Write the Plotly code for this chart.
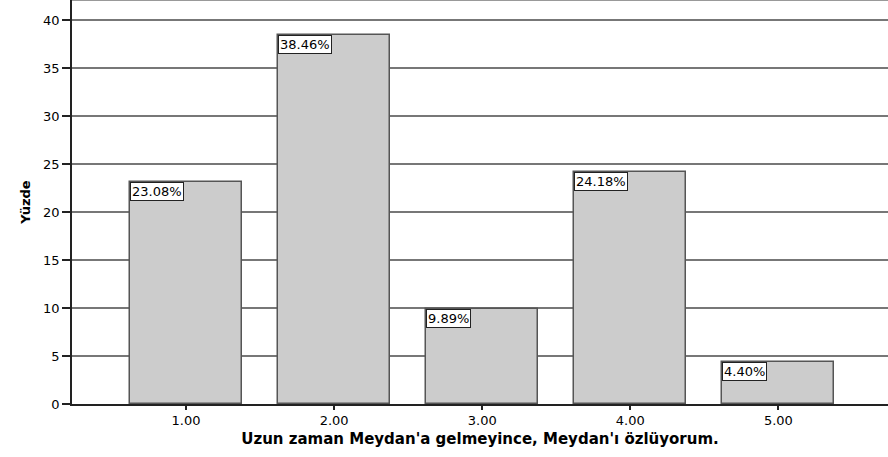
import plotly.graph_objects as go

# Veriler
categories = [1, 2, 3, 4, 5]
tick_labels = ["1.00", "2.00", "3.00", "4.00", "5.00"]
percentages = [23.08, 38.46, 9.89, 24.18, 4.40]
bar_labels = ["23.08%", "38.46%", "9.89%", "24.18%", "4.40%"]

BAR_WIDTH = 0.757
FONT = "DejaVu Sans, Verdana, sans-serif"

fig = go.Figure()

fig.add_trace(
    go.Bar(
        x=categories,
        y=percentages,
        width=BAR_WIDTH,
        marker=dict(color="#cccccc", line=dict(color="#555555", width=1.5)),
        showlegend=False,
        hoverinfo="skip",
    )
)

# Etiket kutuları (çubuğun sol üst köşesinde)
for cat, val, lab in zip(categories, percentages, bar_labels):
    fig.add_annotation(
        x=cat - BAR_WIDTH / 2,
        y=val,
        xref="x",
        yref="y",
        text=lab,
        showarrow=False,
        xanchor="left",
        yanchor="top",
        bgcolor="white",
        bordercolor="#222222",
        borderwidth=1,
        borderpad=1,
        font=dict(family=FONT, size=13, color="black"),
    )

# Üst çerçeve çizgisi
fig.add_shape(
    type="line", xref="paper", yref="paper", x0=0, x1=1, y0=1, y1=1,
    line=dict(color="#777777", width=1.5),
)

fig.update_layout(
    width=888,
    height=457,
    margin=dict(l=72, r=0, t=0, b=53),
    paper_bgcolor="white",
    plot_bgcolor="white",
    font=dict(family=FONT, size=13, color="black"),
    bargap=0,
    xaxis=dict(
        range=[0.23, 5.74],
        tickmode="array",
        tickvals=categories,
        ticktext=tick_labels,
        ticks="outside",
        ticklen=4,
        tickwidth=1.5,
        tickcolor="#222222",
        showgrid=False,
        showline=True,
        linecolor="#222222",
        linewidth=1.5,
        title=dict(
            text="<b>Uzun zaman Meydan'a gelmeyince, Meydan'ı özlüyorum.</b>",
            font=dict(family=FONT, size=15),
            standoff=6,
        ),
        zeroline=False,
    ),
    yaxis=dict(
        range=[0, 42.08],
        tickvals=[0, 5, 10, 15, 20, 25, 30, 35, 40],
        ticks="outside",
        ticklen=8,
        tickwidth=1.5,
        tickcolor="#222222",
        showgrid=True,
        gridcolor="#777777",
        gridwidth=1.5,
        showline=True,
        linecolor="#222222",
        linewidth=1.5,
        zeroline=False,
        title=dict(
            text="<b>Yüzde</b>",
            font=dict(family=FONT, size=13),
            standoff=10,
        ),
    ),
)

fig.write_html(
    "out.html",
    config={"displayModeBar": False},
    post_script="document.body.style.margin='0';",
)
